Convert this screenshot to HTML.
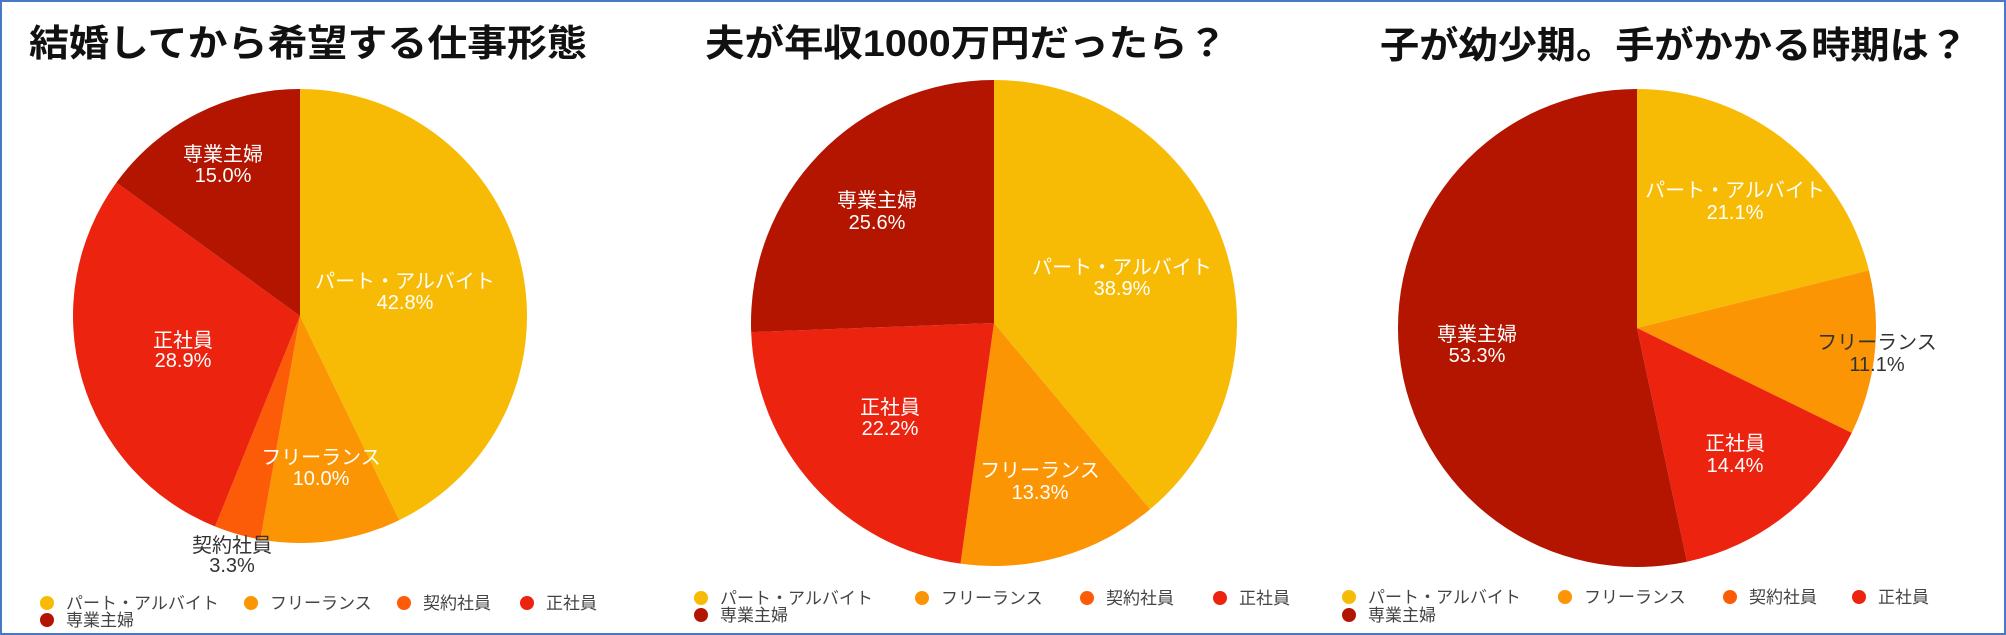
<!DOCTYPE html>
<html><head><meta charset="utf-8">
<style>
html,body{margin:0;padding:0;background:#fff;}
svg{display:block;}
text{font-family:"Liberation Sans","Noto Sans CJK JP",sans-serif;}
</style></head>
<body>
<svg id="s" width="2006" height="635" viewBox="0 0 2006 635" xmlns="http://www.w3.org/2000/svg">
<rect x="1" y="1" width="2004" height="633" fill="#fff" stroke="#4a78c8" stroke-width="2"/>
<g id="pies"></g>
<g font-weight="bold" fill="#111">
<text x="29" y="56" font-size="37" textLength="558" lengthAdjust="spacingAndGlyphs">結婚してから希望する仕事形態</text>
<text x="705" y="56" font-size="37" textLength="522" lengthAdjust="spacingAndGlyphs">夫が年収1000万円だったら？</text>
<text x="1380" y="58" font-size="37" textLength="588" lengthAdjust="spacingAndGlyphs">子が幼少期。手がかかる時期は？</text>
</g>
<g font-size="20" text-anchor="middle" fill="#fff">
<text x="405" y="288">パート・アルバイト</text><text x="405" y="309">42.8%</text>
<text x="321" y="464">フリーランス</text><text x="321" y="485">10.0%</text>
<text x="232" y="552" fill="#333">契約社員</text><text x="232" y="572" fill="#333">3.3%</text>
<text x="183" y="347">正社員</text><text x="183" y="367">28.9%</text>
<text x="223" y="161">専業主婦</text><text x="223" y="182">15.0%</text>

<text x="877" y="207">専業主婦</text><text x="877" y="229">25.6%</text>
<text x="1122" y="274">パート・アルバイト</text><text x="1122" y="295">38.9%</text>
<text x="890" y="414">正社員</text><text x="890" y="435">22.2%</text>
<text x="1040" y="477">フリーランス</text><text x="1040" y="499">13.3%</text>

<text x="1735" y="197">パート・アルバイト</text><text x="1735" y="219">21.1%</text>
<text x="1877" y="349" fill="#333">フリーランス</text><text x="1877" y="371" fill="#333">11.1%</text>
<text x="1735" y="450">正社員</text><text x="1735" y="472">14.4%</text>
<text x="1477" y="341">専業主婦</text><text x="1477" y="362">53.3%</text>
</g>
<g id="leg" font-size="17" fill="#444"></g>
</svg>
<script>
var C=["#f8bb05","#fb9504","#fc5b07","#eb230f","#b31500"];
var pies=[[300,316,227,[42.8,10.0,3.3,28.9,15.0]],[994,323,243,[38.9,13.3,0,22.2,25.6]],[1637,328,239,[21.1,11.1,0,14.4,53.3]]];
var g=document.getElementById('pies'),h='';
pies.forEach(function(p){var cx=p[0],cy=p[1],r=p[2],v=p[3],t=v.reduce(function(a,b){return a+b},0),a=-Math.PI/2;
v.forEach(function(x,i){if(!x)return;var b=a+x/t*2*Math.PI;
var x1=cx+r*Math.cos(a),y1=cy+r*Math.sin(a),x2=cx+r*Math.cos(b),y2=cy+r*Math.sin(b);
h+='<path d="M'+cx+' '+cy+'L'+x1.toFixed(2)+' '+y1.toFixed(2)+'A'+r+' '+r+' 0 '+((b-a)>Math.PI?1:0)+' 1 '+x2.toFixed(2)+' '+y2.toFixed(2)+'Z" fill="'+C[i]+'"/>';a=b;});});
g.innerHTML=h;
var names=["パート・アルバイト","フリーランス","契約社員","正社員","専業主婦"];
var L=[[[47,251,404,527],603,620,47],[[701,922,1087,1220],598,615,701],[[1349,1565,1730,1859],597,615,1349]];
var s='';
L.forEach(function(l){for(var i=0;i<4;i++){s+='<circle cx="'+l[0][i]+'" cy="'+l[1]+'" r="7" fill="'+C[i]+'"/><text x="'+(l[0][i]+19)+'" y="'+(l[1]+6)+'">'+names[i]+'</text>';}
s+='<circle cx="'+l[3]+'" cy="'+l[2]+'" r="7" fill="'+C[4]+'"/><text x="'+(l[3]+19)+'" y="'+(l[2]+6)+'">'+names[4]+'</text>';});
document.getElementById('leg').innerHTML=s;
</script>
</body></html>
